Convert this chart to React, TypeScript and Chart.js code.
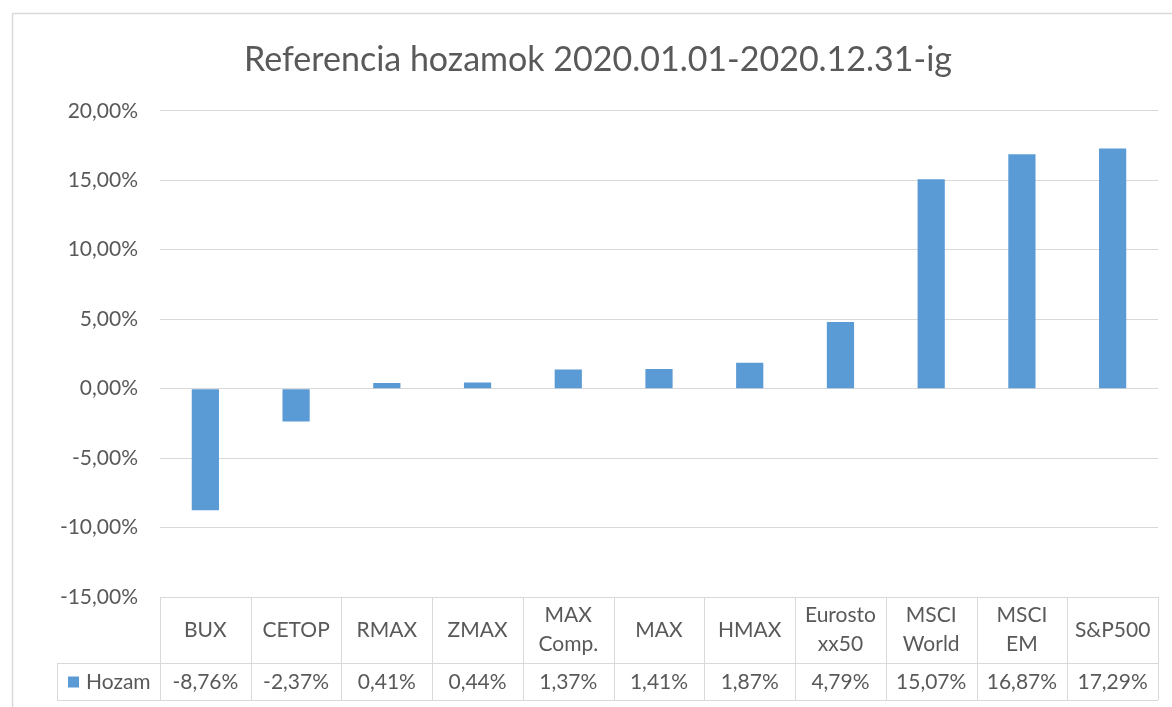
import React, { useEffect, useRef } from 'react';
import { Chart, registerables } from 'chart.js';

Chart.register(...registerables);

const categories: string[][] = [
  ['BUX'],
  ['CETOP'],
  ['RMAX'],
  ['ZMAX'],
  ['MAX', 'Comp.'],
  ['MAX'],
  ['HMAX'],
  ['Eurosto', 'xx50'],
  ['MSCI', 'World'],
  ['MSCI', 'EM'],
  ['S&P500'],
];
const hozam: number[] = [-8.76, -2.37, 0.41, 0.44, 1.37, 1.41, 1.87, 4.79, 15.07, 16.87, 17.29];
const seriesName = 'Hozam';
const titleText = 'Referencia hozamok 2020.01.01-2020.12.31-ig';
const yMin = -15;
const yMax = 20;
const yStep = 5;

const FONT = 'Lato';
const TEXT = '#595959';
const GRID = '#D9D9D9';
const BAR = '#5B9BD5';

const fmt = (v: number) => v.toFixed(2).replace('.', ',') + '%';

const framePlugin = {
  id: 'frame',
  beforeDraw(chart: any) {
    const ctx = chart.ctx;
    ctx.save();
    ctx.fillStyle = '#FFFFFF';
    ctx.fillRect(0, 0, chart.width, chart.height);
    ctx.strokeStyle = GRID;
    ctx.lineWidth = 1.5;
    ctx.strokeRect(12.5, 13.5, chart.width + 50, chart.height + 50);
    ctx.restore();
  },
};

const tablePlugin = {
  id: 'dataTable',
  afterDraw(chart: any) {
    const ctx = chart.ctx;
    const area = chart.chartArea;
    const xs = chart.scales.x;
    const n = chart.data.labels.length;
    const colW = (area.right - area.left) / n;
    const top = area.bottom;
    const mid = top + 66;
    const bottom = top + 103;
    const legendLeft = 57;
    ctx.save();
    ctx.strokeStyle = GRID;
    ctx.lineWidth = 1;
    ctx.beginPath();
    ctx.moveTo(area.left, top + 0.5);
    ctx.lineTo(area.right, top + 0.5);
    ctx.moveTo(legendLeft, mid + 0.5);
    ctx.lineTo(area.right, mid + 0.5);
    ctx.moveTo(legendLeft, bottom + 0.5);
    ctx.lineTo(area.right, bottom + 0.5);
    for (let i = 0; i <= n; i++) {
      const x = Math.round(area.left + i * colW) + 0.5;
      ctx.moveTo(x, top);
      ctx.lineTo(x, bottom);
    }
    ctx.moveTo(legendLeft + 0.5, mid);
    ctx.lineTo(legendLeft + 0.5, bottom);
    ctx.stroke();

    ctx.fillStyle = TEXT;
    ctx.font = `21px ${FONT}`;
    ctx.textAlign = 'center';
    ctx.textBaseline = 'middle';
    const rowMid = (top + mid) / 2;
    const lh = 29;
    const labels = chart.data.labels as string[][];
    const vals = chart.data.datasets[0].data as number[];
    labels.forEach((lines, i) => {
      const x = xs.getPixelForValue(i);
      const y0 = rowMid - ((lines.length - 1) * lh) / 2;
      lines.forEach((t, j) => ctx.fillText(t, x, y0 + j * lh));
      ctx.fillText(fmt(vals[i]), x, (mid + bottom) / 2 + 1);
    });

    ctx.fillStyle = BAR;
    ctx.fillRect(68, (mid + bottom) / 2 - 5, 11, 11);
    ctx.fillStyle = TEXT;
    ctx.textAlign = 'left';
    ctx.fillText(chart.data.datasets[0].label, 86, (mid + bottom) / 2 + 1);
    ctx.restore();
  },
};

export default function App() {
  const ref = useRef<HTMLCanvasElement>(null);
  useEffect(() => {
    if (!ref.current) return;
    const chart = new Chart(ref.current, {
      type: 'bar',
      data: {
        labels: categories,
        datasets: [
          {
            label: seriesName,
            data: hozam,
            backgroundColor: BAR,
            categoryPercentage: 1,
            barPercentage: 0.3,
          },
        ],
      },
      options: {
        animation: false,
        responsive: true,
        maintainAspectRatio: false,
        layout: { padding: { left: 38, right: 14, top: 0, bottom: 110 } },
        plugins: {
          legend: { display: false },
          tooltip: { enabled: false },
          title: {
            display: true,
            text: titleText,
            color: TEXT,
            font: { family: FONT, size: 34, weight: 'normal' },
            padding: { top: 40, bottom: 30 },
          },
        },
        scales: {
          x: { display: false },
          y: {
            min: yMin,
            max: yMax,
            border: { display: false },
            grid: { color: GRID, lineWidth: 1, drawTicks: false },
            ticks: {
              stepSize: yStep,
              padding: 22,
              color: TEXT,
              font: { family: FONT, size: 21 },
              callback: (v: any) => fmt(Number(v)),
            },
            afterFit: (s: any) => {
              s.width = 122;
            },
          },
        },
      },
      plugins: [framePlugin, tablePlugin],
    });
    return () => chart.destroy();
  }, []);
  return (
    <div style={{ position: 'fixed', left: 0, top: 0, width: 1172, height: 707, overflow: 'hidden', background: '#fff' }}>
      <canvas ref={ref} />
    </div>
  );
}
